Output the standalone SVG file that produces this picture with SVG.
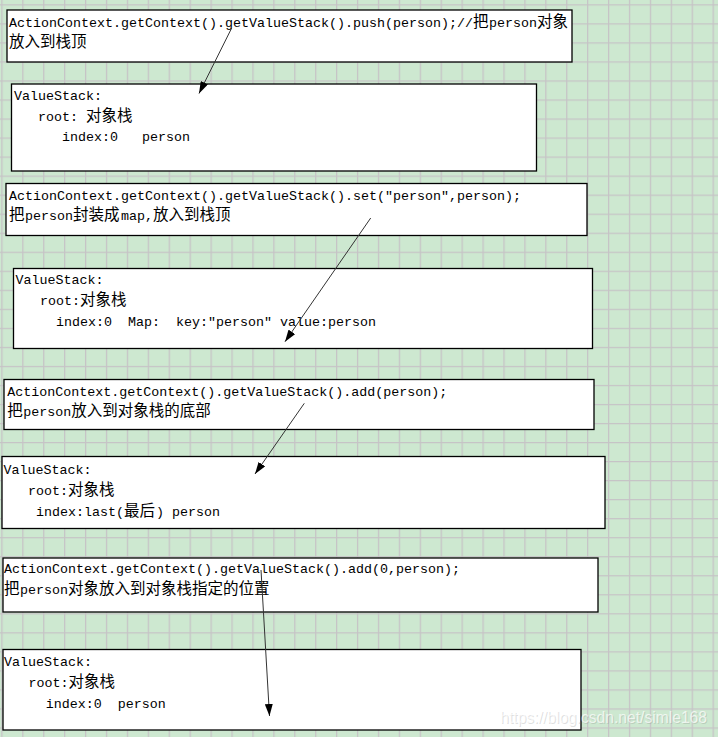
<svg xmlns="http://www.w3.org/2000/svg" width="718" height="737" viewBox="0 0 718 737" xml:space="preserve">
<style>
text{white-space:pre}
.box{fill:#ffffff;stroke:#000000;stroke-width:1.3}
.a{font-family:"Liberation Mono","DejaVu Sans Mono",monospace;font-size:13.33px;fill:#000}
.c{font-family:"Noto Sans CJK SC","Noto Sans CJK JP",sans-serif;font-size:15.5px;fill:#000}
.conn{stroke:#333333;stroke-width:1;fill:none}
.wm{font-family:"Liberation Sans",Arial,sans-serif;font-size:16px}
</style>
<defs>
<pattern id="grid" patternUnits="userSpaceOnUse" x="1.3" y="4.3" width="20.92" height="19.03">
<rect width="20.92" height="19.03" fill="#cde8d0"/>
<path d="M0.6,0 V19.03 M0,0.6 H20.92" stroke="#c6c3c6" stroke-width="1.3" fill="none"/>
</pattern>
<marker id="arr" markerUnits="userSpaceOnUse" markerWidth="12" markerHeight="8" refX="12" refY="4" orient="auto">
<path d="M0,0 L12,4 L0,8 z" fill="#000"/>
</marker>
</defs>
<rect width="718" height="737" fill="url(#grid)"/>

<g id="node1">
<rect class="box" x="7" y="10" width="565" height="52"/>
<text y="27"><tspan class="a" x="9">ActionContext.getContext().getValueStack().push(person);//</tspan><tspan class="c" x="473">把</tspan><tspan class="a" x="489">person</tspan><tspan class="c" x="537">对象</tspan></text>
<text y="47"><tspan class="c" x="9">放入到栈顶</tspan></text>
</g>

<g id="node2">
<rect class="box" x="11.5" y="84" width="525" height="87"/>
<text y="100"><tspan class="a" x="14">ValueStack:</tspan></text>
<text y="121"><tspan class="a" x="38">root: </tspan><tspan class="c" x="86">对象栈</tspan></text>
<text y="141"><tspan class="a" x="62">index:0   person</tspan></text>
</g>

<g id="node3">
<rect class="box" x="6" y="183.5" width="581" height="52"/>
<text y="200"><tspan class="a" x="9">ActionContext.getContext().getValueStack().set("person",person);</tspan></text>
<text y="220"><tspan class="c" x="9">把</tspan><tspan class="a" x="25">person</tspan><tspan class="c" x="73">封装成</tspan><tspan class="a" x="121">map,</tspan><tspan class="c" x="153">放入到栈顶</tspan></text>
</g>

<g id="node4">
<rect class="box" x="13.5" y="268.5" width="579" height="80"/>
<text y="284"><tspan class="a" x="15.5">ValueStack:</tspan></text>
<text y="305"><tspan class="a" x="40">root:</tspan><tspan class="c" x="80">对象栈</tspan></text>
<text y="326"><tspan class="a" x="56">index:0  Map:  key:"person" value:person</tspan></text>
</g>

<g id="node5">
<rect class="box" x="4" y="379.5" width="590" height="50"/>
<text y="395.5"><tspan class="a" x="7.3">ActionContext.getContext().getValueStack().add(person);</tspan></text>
<text y="416"><tspan class="c" x="7.3">把</tspan><tspan class="a" x="23.3">person</tspan><tspan class="c" x="71.3">放入到对象栈的底部</tspan></text>
</g>

<g id="node6">
<rect class="box" x="2" y="456.5" width="603" height="72"/>
<text y="474"><tspan class="a" x="3.5">ValueStack:</tspan></text>
<text y="495"><tspan class="a" x="28">root:</tspan><tspan class="c" x="68">对象栈</tspan></text>
<text y="516"><tspan class="a" x="36">index:last(</tspan><tspan class="c" x="124">最后</tspan><tspan class="a" x="156">) person</tspan></text>
</g>

<g id="node7">
<rect class="box" x="3" y="558" width="595" height="54"/>
<text y="573"><tspan class="a" x="4">ActionContext.getContext().getValueStack().add(0,person);</tspan></text>
<text y="594"><tspan class="c" x="4">把</tspan><tspan class="a" x="20">person</tspan><tspan class="c" x="68">对象放入到对象栈指定的位置</tspan></text>
</g>

<g id="node8">
<rect class="box" x="3" y="649.5" width="578" height="80.5"/>
<text y="666"><tspan class="a" x="4">ValueStack:</tspan></text>
<text y="687"><tspan class="a" x="28.5">root:</tspan><tspan class="c" x="68.5">对象栈</tspan></text>
<text y="708"><tspan class="a" x="45.7">index:0  person</tspan></text>
</g>

<g id="connectors">
<line class="conn" x1="231.7" y1="28" x2="199" y2="93.5" marker-end="url(#arr)"/>
<line class="conn" x1="370.7" y1="218" x2="285" y2="341.7" marker-end="url(#arr)"/>
<line class="conn" x1="304.3" y1="403.3" x2="255" y2="474" marker-end="url(#arr)"/>
<line class="conn" x1="261" y1="570" x2="269.5" y2="716" marker-end="url(#arr)"/>
</g>

<text class="wm" x="501" y="724" textLength="207" lengthAdjust="spacingAndGlyphs" fill="#808080" fill-opacity="0.25">https://blog.csdn.net/simle168</text>
<text class="wm" x="500" y="723" textLength="207" lengthAdjust="spacingAndGlyphs" fill="#ffffff" fill-opacity="0.7">https://blog.csdn.net/simle168</text>
</svg>
